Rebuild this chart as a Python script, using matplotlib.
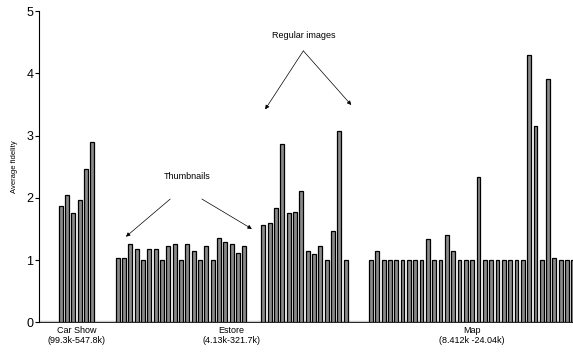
import numpy as np
import matplotlib
matplotlib.use('Agg')
import matplotlib.pyplot as plt

# average fidelity per image
car_show = [1.86, 2.05, 1.76, 1.97, 2.47, 2.90]
estore_thumbs = [1.04, 1.04, 1.25, 1.18, 1.0, 1.18, 1.18, 1.0, 1.22, 1.25, 1.0,
                 1.25, 1.15, 1.0, 1.22, 1.0, 1.36, 1.29, 1.25, 1.11, 1.22]
estore_regular = [1.56, 1.59, 1.84, 2.86, 1.76, 1.77, 2.11, 1.15, 1.09, 1.23,
                  1.0, 1.46, 3.08, 1.0]
map_images = [1.0, 1.15, 1.0, 1.0, 1.0, 1.0, 1.0, 1.0, 1.0, 1.33, 1.0, 1.0, 1.40,
              1.15, 1.0, 1.0, 1.0, 2.33, 1.0, 1.0, 1.0, 1.0, 1.0, 1.0, 1.0, 4.30,
              3.15, 1.0, 3.90, 1.04, 1.0, 1.0, 1.0]
group_labels = ["Car Show\n(99.3k-547.8k)", "Estore\n(4.13k-321.7k)",
                "Map\n(8.412k -24.04k)"]

narrow = ['Liberation Sans Narrow', 'Liberation Sans', 'DejaVu Sans']
plt.rcParams['font.family'] = ['Liberation Sans', 'DejaVu Sans']

# lay the groups out with empty slots between them
gaps = [0, 3, 2, 3]
series = [car_show, estore_thumbs, estore_regular, map_images]
xs, ys = [], []
pos = 0
starts = []
for gap, s in zip(gaps, series):
    pos += gap
    starts.append(pos)
    xs.extend(range(pos, pos + len(s)))
    ys.extend(s)
    pos += len(s)
xs = np.array(xs)

fig = plt.figure(figsize=(5.73, 3.53), dpi=100)
ax = fig.add_axes([39 / 573, 30.7 / 353, 1 - 39 / 573, 311.3 / 353])

ax.axhline(0, color='#c8c8c8', lw=2.5, zorder=1)
ax.bar(xs, ys, width=0.62, color='#8a8a8a', edgecolor='black', linewidth=0.9,
       zorder=2)

ax.set_xlim(-3.43, 80.93)
ax.set_ylim(0, 5)
ax.set_yticks([0, 1, 2, 3, 4, 5])
ax.tick_params(axis='y', length=3, width=0.8, labelsize=9, pad=1)

centers = [starts[0] + (len(car_show) - 1) / 2,
           (starts[1] + starts[2] + len(estore_regular) - 1) / 2,
           starts[3] + (len(map_images) - 1) / 2]
ax.set_xticks(centers)
ax.set_xticklabels(group_labels, fontsize=6.5, family=narrow, linespacing=1.1)
ax.tick_params(axis='x', length=0, pad=3)

for side in ['top', 'right']:
    ax.spines[side].set_visible(False)
ax.spines['bottom'].set_linewidth(0.6)
ax.spines['left'].set_linewidth(0.8)

ax.set_ylabel('Average fidelity', fontsize=5.5, family=narrow, labelpad=6)

arrow = dict(arrowstyle='-|>', color='black', lw=0.5, mutation_scale=6,
             shrinkA=0, shrinkB=0)
ax.text(19.95, 2.34, 'Thumbnails', ha='center', va='center', fontsize=6.5,
        family=narrow)
ax.annotate('', xy=(10.3, 1.375), xytext=(17.3, 1.98), arrowprops=arrow)
ax.annotate('', xy=(30.2, 1.50), xytext=(22.3, 1.98), arrowprops=arrow)

ax.text(38.44, 4.61, 'Regular images', ha='center', va='center', fontsize=6.5,
        family=narrow)
ax.annotate('', xy=(32.3, 3.42), xytext=(38.33, 4.36), arrowprops=arrow)
ax.annotate('', xy=(45.9, 3.49), xytext=(38.33, 4.36), arrowprops=arrow)

fig.savefig('out.png', dpi=100)
